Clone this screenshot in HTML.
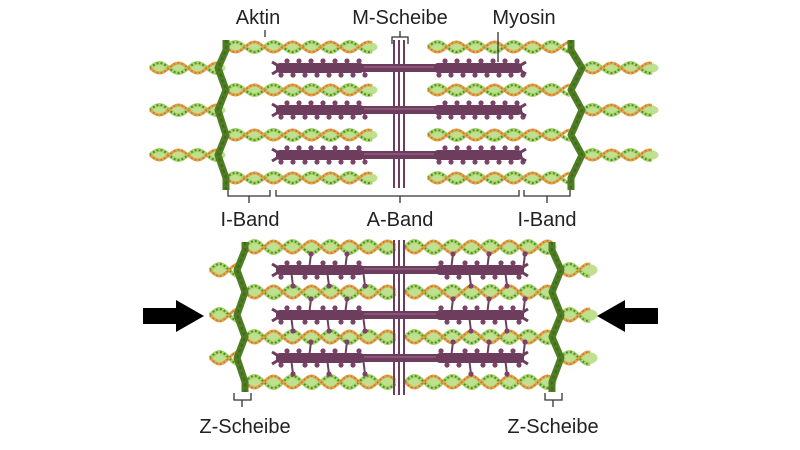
<!DOCTYPE html>
<html><head><meta charset="utf-8"><style>
html,body{margin:0;padding:0;background:#fff;width:800px;height:450px;overflow:hidden}
svg text{font-family:"Liberation Sans",sans-serif;font-size:20px;fill:#222}
</style></head><body>
<svg id="s" width="800" height="450" viewBox="0 0 800 450" xmlns="http://www.w3.org/2000/svg">
<g id="g"></g>
<g stroke="#333" stroke-width="1.3" fill="none">
<path d="M265 30V37"/><path d="M392 44V37H408V44M400 37V31"/><path d="M498 32V62"/>
<path d="M228 190V196H270V190M249 196V203"/>
<path d="M276 190V196H519V190M400 196V203"/>
<path d="M524 190V196H570V190M547 196V203"/>
<path d="M234 393V400H251V393M242 400V407"/>
<path d="M545 393V400H562V393M553 400V407"/>
</g>
<text x="258" y="24" text-anchor="middle">Aktin</text>
<text x="400" y="24" text-anchor="middle">M-Scheibe</text>
<text x="524" y="24" text-anchor="middle">Myosin</text>
<text x="250" y="226" text-anchor="middle">I-Band</text>
<text x="400" y="226" text-anchor="middle">A-Band</text>
<text x="547" y="226" text-anchor="middle">I-Band</text>
<text x="245" y="433" text-anchor="middle">Z-Scheibe</text>
<text x="553" y="433" text-anchor="middle">Z-Scheibe</text>
<path d="M143 308H176V300L204 316L176 332V324H143Z" fill="#000"/>
<path d="M658 308H625V300L597 316L625 332V324H658Z" fill="#000"/>
</svg>
<script>
var g=document.getElementById('g'),h='';
function actin(x1,x2,y,amp){
  var P=38,s1='',s2='';
  for(var x=x1;x<=x2;x+=1){var t=(x-x1)/P*2*Math.PI;s1+=(x==x1?'M':'L')+x+' '+(y+amp*Math.sin(t)).toFixed(1);s2+=(x==x1?'M':'L')+x+' '+(y-amp*Math.sin(t)).toFixed(1);}
  for(var x=x1+P/4;x<x2;x+=P/2){h+='<ellipse cx="'+x+'" cy="'+y+'" rx="9" ry="'+(amp)+'" fill="#bfe08f"/>';}
  h+='<path d="'+s2+'" stroke="#a8d46e" stroke-width="4" fill="none"/>';
  h+='<path d="'+s2+'" stroke="#4f8a24" stroke-width="2" stroke-dasharray="1.8 2.2" fill="none"/>';
  h+='<path d="'+s1+'" stroke="#e0a24a" stroke-width="3" fill="none"/>';
  h+='<path d="'+s1+'" stroke="#c07a28" stroke-width="1.6" stroke-dasharray="1.5 2.5" fill="none"/>';
}
function myosin(x1,x2,y,reach){
  h+='<rect x="'+x1+'" y="'+(y-4)+'" width="'+(x2-x1)+'" height="8" fill="#6e3d5e"/>';
  h+='<line x1="'+x1+'" y1="'+(y-1)+'" x2="'+x2+'" y2="'+(y-1)+'" stroke="#a07090" stroke-width="1"/>';
  var segs=[[x1,x1+88],[x2-88,x2]];
  segs.forEach(function(sg){
    h+='<rect x="'+sg[0]+'" y="'+(y-5)+'" width="'+(sg[1]-sg[0])+'" height="10" rx="4" fill="#6e3d5e"/>';
    for(var x=sg[0]+3;x<sg[1];x+=6){
      var k=(x/6)|0, up=k%2?-1:1, r=reach?(k%3==0?reach:7):7;
      h+='<line x1="'+x+'" y1="'+y+'" x2="'+(x+2)+'" y2="'+(y+up*r)+'" stroke="#6e3d5e" stroke-width="2"/>';
      h+='<circle cx="'+(x+2)+'" cy="'+(y+up*r)+'" r="2.6" fill="#7a4468"/>';
    }
  });
  h+='<path d="M'+(x1-4)+' '+(y-6)+'L'+(x1+6)+' '+y+'L'+(x1-4)+' '+(y+6)+'" stroke="#6e3d5e" stroke-width="3" fill="none"/>';
  h+='<path d="M'+(x2+4)+' '+(y-6)+'L'+(x2-6)+' '+y+'L'+(x2+4)+' '+(y+6)+'" stroke="#6e3d5e" stroke-width="3" fill="none"/>';
}
function zdisc(pts){
  var d='M'+pts.map(function(p){return p[0]+' '+p[1]}).join('L');
  h+='<path d="'+d+'" stroke="#4f7d24" stroke-width="7" fill="none" stroke-linejoin="round"/>';
  h+='<path d="'+d+'" stroke="#3e6a1a" stroke-width="2" stroke-dasharray="3 3" fill="none"/>';
}
function mline(y1,y2){[394,399,404].forEach(function(x){h+='<line x1="'+x+'" y1="'+y1+'" x2="'+x+'" y2="'+y2+'" stroke="#6e3d5e" stroke-width="2"/>';});}
var ta=[47,90,135,178],tm=[68,110,155];
tm.forEach(function(y){actin(150,218,y,5);actin(583,652,y,5);});
ta.forEach(function(y){actin(226,372,y,5);actin(428,570,y,5);});
mline(40,188);
tm.forEach(function(y){myosin(276,522,y,0);});
zdisc([[226,40],[226,50],[218,68],[226,90],[218,110],[226,135],[218,155],[226,178],[226,190]]);
zdisc([[571,40],[571,50],[582,68],[571,90],[582,110],[571,135],[582,155],[571,178],[571,190]]);
var ba=[247,292,337,382],bm=[270,315,358];
bm.forEach(function(y){actin(210,238,y,6);actin(560,590,y,6);});
ba.forEach(function(y){actin(245,395,y,6);actin(405,552,y,6);});
mline(240,395);
bm.forEach(function(y){myosin(276,524,y,16);});
zdisc([[245,242],[245,250],[237,270],[245,292],[237,315],[245,337],[237,358],[245,382],[245,392]]);
zdisc([[552,242],[552,250],[561,270],[552,292],[561,315],[552,337],[561,358],[552,382],[552,392]]);
g.innerHTML=h;
</script>
</body></html>
